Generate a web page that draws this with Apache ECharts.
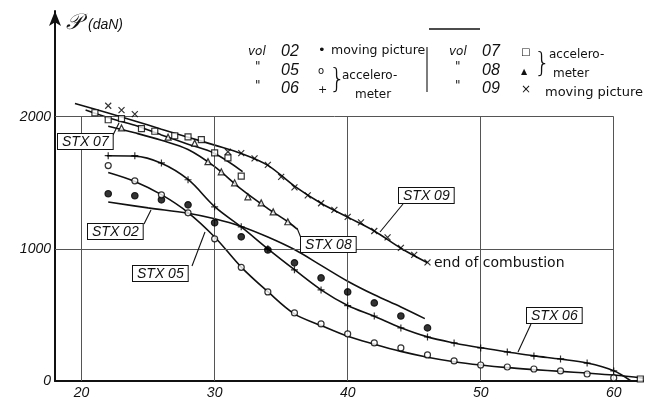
<!DOCTYPE html>
<html><head><meta charset="utf-8">
<script src="https://cdn.jsdelivr.net/npm/echarts@6/dist/echarts.min.js"></script>
<style>html,body{margin:0;padding:0;background:#fff}#c{width:645px;height:402px}</style>
</head><body><div id="c"></div>
<script>
// ---- axes / grid values ----
const xGridValues = [20, 30, 40, 50, 60];
const yGridValues = [1000, 2000];
const xLabelValues = [20, 30, 40, 50, 60];
const yLabelValues = [0, 1000, 2000];
const frameX = [18, 60];
const frameY = [0, 2000];

// ---- STX 02 (vol 02, moving pictures, filled dots) ----
const stx02Curve = [[22,1355],[25,1310],[28,1270],[30,1228],[32,1170],[34,1090],[36,995],[38,875],[40,755],[42,652],[44,560],[45.8,472]];
const stx02Points = [[22,1417],[24,1402],[26,1371],[28,1333],[30,1197],[32,1091],[34,992],[36,894],[38,780],[40,674],[42,591],[44,492],[46,402]];

// ---- STX 05 (vol 05, accelerometer, open circles) ----
const stx05Curve = [[22,1578],[24,1510],[26,1410],[28,1275],[30,1090],[32,862],[34,676],[36,508],[38,420],[40,338],[42,278],[44,224],[46,180],[48,146],[50,121],[52,101],[54,86],[56,73],[58,60],[60,45],[62.2,22]];
const stx05Points = [[22,1630],[24,1515],[26,1409],[28,1273],[30,1076],[32,860],[34,674],[36,515],[38,432],[40,356],[42,288],[44,250],[46,197],[48,152],[50,121],[52,106],[54,91],[56,76],[58,53],[60,23]];

// ---- STX 06 (vol 06, accelerometer, plus) ----
const stx06Curve = [[21.9,1705],[24,1702],[26,1648],[28,1525],[30,1320],[32,1166],[34,1000],[36,842],[38,690],[40,572],[42,490],[44,403],[46,334],[48,288],[50,251],[52,220],[54,190],[56,166],[58,136],[60,78],[61.3,0]];
const stx06Points = [[22,1705],[24,1705],[26,1650],[28,1523],[30,1318],[32,1167],[34,1000],[36,841],[38,689],[40,570],[42,492],[44,402],[46,333],[48,288],[50,250],[52,220],[54,189],[56,167],[58,136],[60,76]];

// ---- STX 07 (vol 07, accelerometer, open squares) ----
const stx07Curve = [[20.3,2050],[22,1992],[24,1935],[26,1862],[28,1792],[30,1722],[32.1,1585]];
const stx07Points = [[21,2030],[22,1977],[23,1985],[24.5,1910],[25.5,1890],[27,1856],[28,1848],[29,1826],[30,1727],[31,1689],[32,1550],[62,15]];

// ---- STX 08 (vol 08, accelerometer, triangles) ----
const stx08Curve = [[22,1928],[24,1878],[26,1822],[28,1752],[30,1622],[32,1452],[34,1305],[35.5,1205],[36.2,1150]];
const stx08Points = [[23,1915],[26.5,1845],[28.5,1800],[29.5,1660],[30.5,1583],[31.5,1500],[32.5,1394],[33.5,1348],[34.4,1280],[35.5,1205]];

// ---- STX 09 (vol 09, moving pictures, crosses) ----
const stx09Curve = [[19.5,2100],[22,2028],[24,1968],[26,1905],[28,1845],[30,1785],[32,1722],[34,1632],[36,1475],[38,1345],[40,1240],[42,1135],[44,1005],[46,895]];
const stx09Points = [[22,2083],[23,2050],[24,2020],[31,1735],[32,1725],[33,1685],[34,1636],[35,1545],[36,1465],[37,1405],[38,1345],[39,1295],[40,1242],[41,1200],[42,1135],[43,1087],[44,1008],[45,955],[46,898]];

// ---------------------------------------------------------------
const INK = '#000';
const gridPairs = [];
xGridValues.forEach(v => gridPairs.push([{coord:[v, frameY[0]]},{coord:[v, frameY[1]]}]));
yGridValues.forEach(v => gridPairs.push([{coord:[frameX[0], v]},{coord:[frameX[1], v]}]));

function curve(data){
  return {type:'line', data, smooth:0.35, showSymbol:false, silent:true, z:3,
    lineStyle:{color:'#111', width:1.6}};
}
function pts(data, symbol, size, filled){
  return {type:'scatter', data, symbol, symbolSize:size, silent:true, z:5,
    itemStyle: filled ? {color:INK, borderColor:INK, borderWidth:1.2}
                      : {color:'#fff', borderColor:INK, borderWidth:1.2}};
}
const PLUS = 'path://M0,5L10,5M5,0L5,10';
const CROSS = 'path://M0,0L10,10M10,0L0,10';

const tickFont = {fontFamily:'Liberation Sans', fontStyle:'italic', fontSize:14, color:'#111'};
const hand = {fontFamily:'DejaVu Sans', fill:'#111'};

function box(text, x, y){
  return {type:'text', x, y, z:20, style:{text, fontFamily:'Liberation Sans', fontStyle:'italic', fontSize:14,
    fill:'#111', backgroundColor:'#fff', borderColor:'#111', borderWidth:1, padding:[1,4,0,4]}};
}
function seg(x1,y1,x2,y2,w){
  return {type:'line', z:19, shape:{x1,y1,x2,y2}, style:{stroke:'#111', lineWidth:w||1.1}};
}
function txt(text,x,y,size,extra){
  return {type:'text', x, y, z:20, style:Object.assign({text, fontSize:size, verticalAlign:'middle'}, hand, extra||{})};
}

const chart = echarts.init(document.getElementById('c'), null, {renderer:'canvas'});
chart.setOption({
  animation:false,
  backgroundColor:'#fff',
  grid:{left:55, right:2, top:11, bottom:21, outerBoundsMode:'none'},
  xAxis:{type:'value', min:18, max:62.2, interval:2,
    axisLine:{lineStyle:{color:'#111', width:2}}, axisTick:{show:false}, splitLine:{show:false},
    axisLabel:Object.assign({margin:5, showMaxLabel:false, formatter:v => xLabelValues.includes(v) ? String(v) : ''}, tickFont)},
  yAxis:{type:'value', min:0, max:2800, interval:1000,
    axisLine:{show:true, symbol:['none','arrow'], symbolSize:[9,15], lineStyle:{color:'#111', width:2}},
    axisTick:{show:false}, splitLine:{show:false},
    axisLabel:Object.assign({margin:4, formatter:v => yLabelValues.includes(v) ? String(v) : ''}, tickFont)},
  series:[
    {type:'line', data:[], silent:true, z:1,
      markLine:{silent:true, symbol:['none','none'], animation:false, label:{show:false},
        lineStyle:{color:'#555', width:1, type:'solid'}, data:gridPairs}},
    curve(stx02Curve), curve(stx05Curve), curve(stx06Curve),
    curve(stx07Curve), curve(stx08Curve), curve(stx09Curve),
    pts(stx02Points,'circle',6.5,true),
    pts(stx05Points,'circle',6,false),
    pts(stx06Points,PLUS,7,true),
    pts(stx07Points,'rect',6,false),
    pts(stx08Points,'triangle',6,false),
    pts(stx09Points,CROSS,6,true)
  ],
  graphic:[
    // axis title
    {type:'text', x:66, y:23, z:20, style:{text:'𝒫', fontFamily:'DejaVu Serif, DejaVu Sans', fontSize:22, fontStyle:'italic', fill:'#111', verticalAlign:'middle'}},
    {type:'text', x:88, y:25, z:20, style:{text:'(daN)', fontFamily:'Liberation Sans', fontSize:14, fontStyle:'italic', fill:'#111', verticalAlign:'middle'}},
    // legend, left block
    txt('vol',248,52,12,{fontStyle:'italic'}),
    txt('02',281,52,16,{fontFamily:'Liberation Sans', fontStyle:'italic'}),
    txt('"',255,67,12), txt('05',281,71,16,{fontFamily:'Liberation Sans', fontStyle:'italic'}),
    txt('"',255,86,12), txt('06',281,89,16,{fontFamily:'Liberation Sans', fontStyle:'italic'}),
    txt('•',318,51,13), txt('moving picture',331,51,12.5),
    txt('o',318,71,10), txt('+',318,90,11),
    txt('}',329,80,26,{fontWeight:'lighter'}),
    txt('accelero-',342,76,12), txt('meter',355,95,12),
    seg(427,47,427,92,1.1),
    seg(429,29,480,29,1.6),
    // legend, right block
    txt('vol',449,52,12,{fontStyle:'italic'}),
    txt('07',482,52,16,{fontFamily:'Liberation Sans', fontStyle:'italic'}),
    txt('"',455,67,12), txt('08',482,71,16,{fontFamily:'Liberation Sans', fontStyle:'italic'}),
    txt('"',455,86,12), txt('09',482,89,16,{fontFamily:'Liberation Sans', fontStyle:'italic'}),
    txt('□',521,52,10), txt('▲',521,72,8), txt('×',521,90,12),
    txt('}',534,64,26,{fontWeight:'lighter'}),
    txt('accelero-',549,55,12), txt('meter',553,74,12),
    txt('moving picture',545,93,13),
    // annotations
    txt('end of combustion',434,263,14),
    box('STX 07',58,134), seg(113,135,119,123),
    box('STX 02',88,224), seg(144,224,151,210),
    box('STX 05',133,266), seg(192,266,205,232),
    box('STX 08',301,237), seg(301,238,297,228),
    box('STX 09',399,188), seg(403,204,380,232),
    box('STX 06',527,308), seg(531,324,518,352)
  ]
});
</script></body></html>
